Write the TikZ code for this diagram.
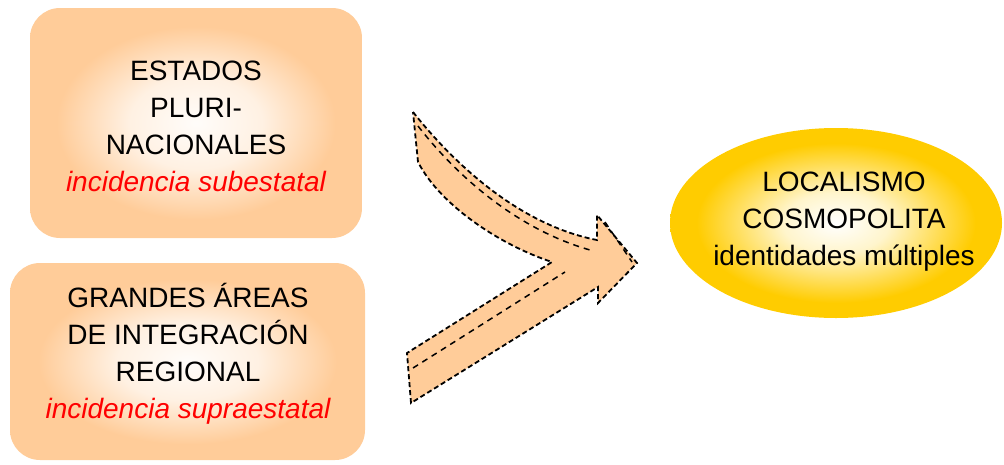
\documentclass[tikz,border=0pt]{standalone}
\usepackage{fontspec}
\setmainfont{Liberation Sans}
\usetikzlibrary{shapes.geometric}
\definecolor{peach}{HTML}{FFCC99}
\definecolor{gold}{HTML}{FFCC00}
\pgfdeclareradialshading{peachglow}{\pgfpoint{0bp}{0bp}}{color(0bp)=(white!95!peach); color(10bp)=(white!72!peach); color(21bp)=(peach); color(50bp)=(peach)}
\pgfdeclareradialshading{goldglow}{\pgfpoint{0bp}{0bp}}{color(0bp)=(white); color(8bp)=(white!80!gold); color(21bp)=(gold); color(50bp)=(gold)}
\tikzset{%
  areabox/.style={rounded corners=30pt,shading=peachglow,inner sep=0pt},
  cosmo/.style={ellipse,shading=goldglow,inner sep=0pt},
  label/.style={align=center,font=\fontsize{28}{37}\selectfont},
  flecha/.style={fill=peach,draw=black,line width=1.8pt,dash pattern=on 5pt off 3pt},
  trazo/.style={draw=black,line width=1.5pt,dash pattern=on 6pt off 5pt}
}

\begin{document}
\begin{tikzpicture}[x=1pt,y=-1pt]
  \useasboundingbox (0,0) rectangle (1004,464);

  % cajas de la izquierda
  \node [areabox,minimum width=332pt,minimum height=230pt] (plurin) at (196,123) {};
  \node [areabox,minimum width=355pt,minimum height=197pt] (areas) at (187.5,361.5) {};
  \node [label] (plurintxt) at (196,126)
    {ESTADOS\\PLURI-\\NACIONALES\\{\color{red}\itshape incidencia subestatal}};
  \node [label] (areastxt) at (188,354)
    {GRANDES ÁREAS\\DE INTEGRACIÓN\\REGIONAL\\{\color{red}\itshape incidencia supraestatal}};

  % elipse de la derecha
  \node [cosmo,minimum width=332pt,minimum height=190pt] (local) at (836,223) {};
  \node [label] (localtxt) at (844,222)
    {LOCALISMO\\COSMOPOLITA\\identidades múltiples};

  % flecha
  \draw [flecha] (413,112) .. controls (455,165) and (520,225) .. (597,240)
    -- (597,215) -- (637,263) -- (598,303) -- (598,287)
    -- (411,403) -- (407,353) -- (552,262)
    .. controls (500,245) and (440,205) .. (418,162) -- cycle;
  \draw [trazo] (418,126) .. controls (460,180) and (520,230) .. (590,250);
  \draw [trazo] (413,368) -- (565,272);
  \draw [trazo] (605,222) -- (632,262);
\end{tikzpicture}
\end{document}
